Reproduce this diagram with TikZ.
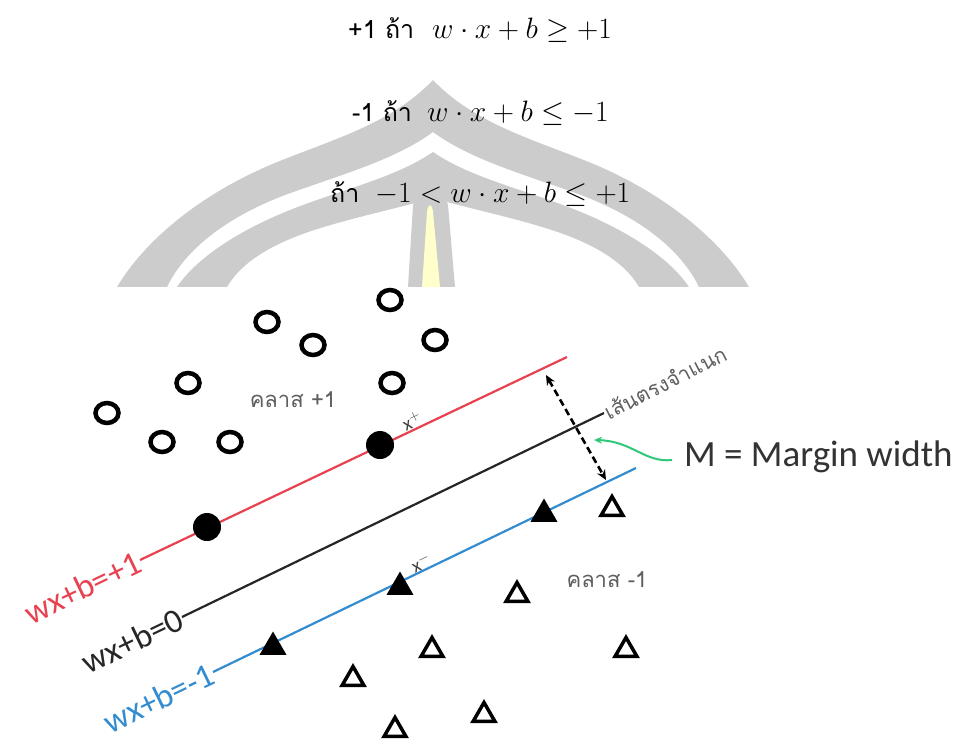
\documentclass[tikz,border=0pt]{standalone}
\usepackage{graphicx}
\usepackage{fontspec}
\newfontfamily\thaifont[Script=Thai]{Loma}
\newfontfamily\calfont{Carlito}
\usetikzlibrary{shapes.geometric,arrows.meta}
\definecolor{wmgray}{RGB}{204,204,204}
\definecolor{wmyellow}{RGB}{255,255,204}
\definecolor{svred}{RGB}{232,66,80}
\definecolor{svblue}{RGB}{52,140,208}
\definecolor{svgreen}{RGB}{46,200,120}
\definecolor{lblgray}{RGB}{95,95,95}
\newcommand{\bigmath}[1]{\scalebox{1.185}{$#1$}}
\begin{document}
\begin{tikzpicture}[x=1pt,y=-1pt,
  thaitxt/.style={anchor=base west,inner sep=0pt,font=\thaifont\fontsize{25}{26}\selectfont},
  mathtxt/.style={anchor=base west,inner sep=0pt,font=\fontsize{24.88}{26}\selectfont},
  ring/.style={ellipse,draw=black,line width=4.5pt,minimum width=23pt,minimum height=20pt,inner sep=0pt},
  dotsv/.style={circle,fill=black,minimum size=28pt,inner sep=0pt},
  trisv/.style={regular polygon,regular polygon sides=3,fill=black,minimum size=31pt,inner sep=0pt},
  triopen/.style={regular polygon,regular polygon sides=3,draw=black,line width=3.5pt,minimum size=25pt,inner sep=0pt},
  classlbl/.style={text=lblgray,font=\thaifont\fontsize{22}{24}\selectfont,inner sep=0pt},
  linelbl/.style={anchor=east,rotate=25.6,inner sep=1pt,font=\calfont\fontsize{34}{36}\selectfont},
  svlabel/.style={text=black!75,font=\calfont\fontsize{19}{19}\selectfont,inner sep=0pt,rotate=25}
]
\useasboundingbox (0,0) rectangle (968,742);
% ---- watermark ----
\fill[wmgray] (433,80) .. controls (390,125) and (330,140) .. (270,165)
  .. controls (200,195) and (145,240) .. (117,287) -- (167,287)
  .. controls (185,250) and (225,218) .. (285,195)
  .. controls (340,175) and (395,160) .. (433,132)
  .. controls (471,160) and (526,175) .. (581,195)
  .. controls (641,218) and (681,250) .. (699,287) -- (749,287)
  .. controls (721,240) and (666,195) .. (596,165)
  .. controls (536,140) and (476,125) .. (433,80) -- cycle;
\fill[wmgray] (433,152) .. controls (395,178) and (340,190) .. (290,210)
  .. controls (235,232) and (195,260) .. (177,287) -- (227,287)
  .. controls (238,268) and (260,250) .. (300,235)
  .. controls (340,220) and (400,208) .. (433,198)
  .. controls (466,208) and (526,220) .. (566,235)
  .. controls (606,250) and (628,268) .. (639,287) -- (689,287)
  .. controls (671,260) and (631,232) .. (576,210)
  .. controls (526,190) and (471,178) .. (433,152) -- cycle;
\fill[wmgray] (408,287) -- (413,205) .. controls (418,190) and (426,182) .. (431,180)
  .. controls (436,182) and (444,190) .. (448,205) -- (455,287) -- cycle;
\fill[wmyellow] (422,287) -- (427,212) .. controls (428,203) and (432,203) .. (433,212) -- (440,287) -- cycle;
% ---- conditions ----
\node[thaitxt] (c1t) at (348,38) {+1 ถ้า};
\node[mathtxt] (c1m) at (432,38) {\bigmath{w\cdot x+b\geq+1}};
\node[thaitxt] (c2t) at (352,121) {-1 ถ้า};
\node[mathtxt] (c2m) at (427,121) {\bigmath{w\cdot x+b\leq-1}};
\node[thaitxt] (c3t) at (330,202) {ถ้า};
\node[mathtxt] (c3m) at (375,202) {\bigmath{-1<w\cdot x+b\leq+1}};
% ---- diagram area ----
\fill[white] (0,287) rectangle (968,742);
\coordinate (r0) at (140,560); \coordinate (r1) at (567,357);
\coordinate (k0) at (182,617); \coordinate (k1) at (604,413);
\coordinate (b0) at (213,672); \coordinate (b1) at (636,468);
\draw[svred,line width=2.2pt] (r0) -- (r1);
\draw[black!85,line width=2.2pt] (k0) -- (k1);
\draw[svblue,line width=2.2pt] (b0) -- (b1);
\node[linelbl,text=svred] (lr) at (r0) {wx+b=+1};
\node[linelbl,text=black!85] (lk) at (k0) {wx+b=0};
\node[linelbl,text=svblue] (lb) at (b0) {wx+b=-1};
% class +1
\node[ring] (o1) at (390,300) {};
\node[ring] (o2) at (267,322) {};
\node[ring] (o3) at (313,345) {};
\node[ring] (o4) at (435,340) {};
\node[ring] (o5) at (188,383) {};
\node[ring] (o6) at (392,383) {};
\node[ring] (o7) at (107,413) {};
\node[ring] (o8) at (162,442) {};
\node[ring] (o9) at (230,442) {};
\node[dotsv] (s1) at (207,527) {};
\node[dotsv] (s2) at (380,445) {};
% class -1
\node[trisv] (t1) at (273,647) {};
\node[trisv] (t2) at (400,587) {};
\node[trisv] (t3) at (544,514) {};
\node[triopen] (u1) at (612,509) {};
\node[triopen] (u2) at (432,650) {};
\node[triopen] (u3) at (353,679) {};
\node[triopen] (u4) at (395,730) {};
\node[triopen] (u5) at (517,595) {};
\node[triopen] (u6) at (626,650) {};
\node[triopen] (u7) at (484,715) {};
% labels
\node[classlbl] (cp) at (293,400) {คลาส +1};
\node[classlbl] (cm) at (607,580) {คลาส -1};
\node[svlabel] (xp) at (412,421) {x$^{+}$};
\node[svlabel] (xm) at (421,563) {x$^{-}$};
\node[anchor=west,rotate=27,text=lblgray,inner sep=1pt,font=\thaifont\fontsize{21}{22}\selectfont] (sep) at (k1) {เส้นตรงจำแนก};
% margin arrow
\coordinate (mt) at (546,375); \coordinate (mb) at (606,480);
\draw[line width=2.6pt,dash pattern=on 7pt off 4pt,{Stealth[length=10pt,width=9pt]}-{Stealth[length=10pt,width=9pt]}] (mt) -- (mb);
% margin label
\node[anchor=base west,inner sep=0pt,text=black!80,font=\calfont\fontsize{37}{38}\selectfont] (mw) at (684,466) {M = Margin width};
\coordinate (gs) at (672,460); \coordinate (ge) at (594,440);
\draw[svgreen,line width=2pt,-{Stealth[length=8pt,width=7pt]}] (gs) .. controls (645,463) and (632,441) .. (ge);
\end{tikzpicture}
\end{document}
